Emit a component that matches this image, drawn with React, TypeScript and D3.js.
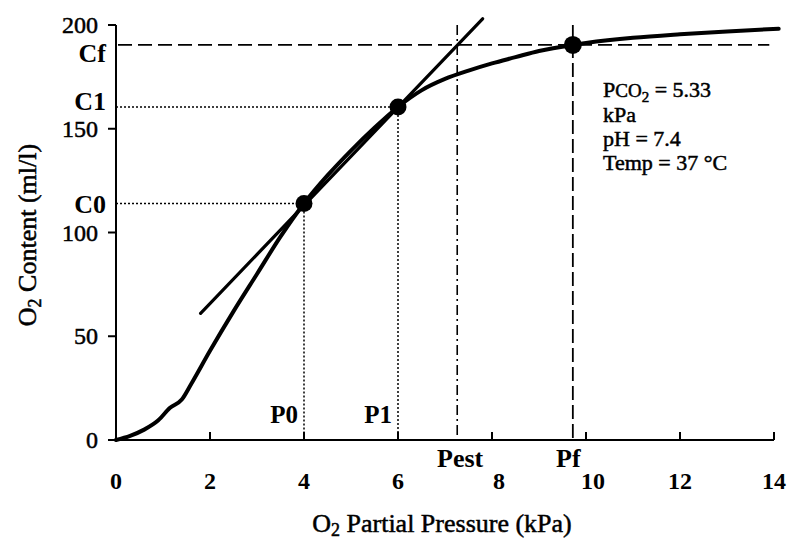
import React from "react";
import * as d3 from "d3";

const curveX = [0, 0.3, 0.6, 0.9, 1.15, 1.4, 1.6, 2.0, 2.5, 3.0, 3.5, 4.0, 4.5, 5.0, 5.5, 6.0, 6.5, 7.0, 7.5, 8.0, 8.5, 9.0, 9.72, 10, 11, 12, 13, 14.1];
const curveY = [0, 2, 5, 9.5, 15.5, 19.5, 27, 43, 62, 80, 98, 114, 127.5, 139.5, 150.5, 160.5, 168.5, 174, 178, 181.5, 184.5, 187.5, 190.4, 191.3, 193.8, 195.5, 196.9, 198.2];
const tangentX = [1.8, 7.8];
const tangentY = [61, 203];
const pointNames = ["0", "1", "f"];
const pointP = [4, 6, 9.72];
const pointC = [114, 160.5, 190.4];
const pEst = 7.26;
const xTicks = [0, 2, 4, 6, 8, 10, 12, 14];
const yTicks = [0, 50, 100, 150, 200];
const infoLines = ["kPa", "pH = 7.4", "Temp = 37 °C"];

const FONT = "'Liberation Serif', 'DejaVu Serif', 'Times New Roman', serif";

export default function App() {
  const x = d3.scaleLinear().domain([0, 14]).range([116, 774]);
  const y = d3.scaleLinear().domain([0, 200]).range([440, 25]);
  const curvePts: [number, number][] = curveX.map((v, i) => [v, curveY[i]]);
  const line = d3
    .line<[number, number]>()
    .x((d) => x(d[0]))
    .y((d) => y(d[1]))
    .curve(d3.curveMonotoneX);
  const tLine = d3
    .line<[number, number]>()
    .x((d) => x(d[0]))
    .y((d) => y(d[1]));
  const tangentPts: [number, number][] = tangentX.map((v, i) => [v, tangentY[i]]);
  const x0 = x(0);
  const yTop = y(200);
  const yBase = y(0);
  const cLabelOffsets = [10, 3, 17];
  const thick = { stroke: "#000", strokeWidth: 0.5 };

  return (
    <svg
      width={788}
      height={542}
      style={{ position: "absolute", left: 0, top: 0, background: "#fff" }}
      fontFamily={FONT}
    >
      <rect x={0} y={0} width={788} height={542} fill="#fff" />
      {[0, 1].map((i) => (
        <g key={"dot" + i} stroke="#000" strokeWidth={1.5} strokeDasharray="2,2" fill="none">
          <line x1={x0} x2={x(pointP[i])} y1={y(pointC[i])} y2={y(pointC[i])} />
          <line x1={x(pointP[i])} x2={x(pointP[i])} y1={y(pointC[i])} y2={yBase} />
        </g>
      ))}
      <line x1={x0 + 2} x2={x(13.9)} y1={y(pointC[2])} y2={y(pointC[2])} stroke="#000" strokeWidth={1.8} strokeDasharray="14,6" />
      <line x1={x(pointP[2])} x2={x(pointP[2])} y1={yTop} y2={yBase} stroke="#000" strokeWidth={1.8} strokeDasharray="14,5" />
      <line x1={x(pEst)} x2={x(pEst)} y1={yTop} y2={yBase} stroke="#000" strokeWidth={1.6} strokeDasharray="10,4,2,4" />

      <g stroke="#000" strokeWidth={2} fill="none">
        <line x1={x0} x2={x0} y1={yTop} y2={yBase} />
        <line x1={x0 - 8} x2={x(14)} y1={yBase} y2={yBase} />
        {yTicks.map((t) => (
          <line key={"yt" + t} x1={x0 - 8} x2={x0} y1={y(t)} y2={y(t)} />
        ))}
        {xTicks.filter((t) => t > 0).map((t) => (
          <line key={"xt" + t} x1={x(t)} x2={x(t)} y1={yBase} y2={yBase - 8} />
        ))}
      </g>

      <path d={tLine(tangentPts) || ""} stroke="#000" strokeWidth={3.2} fill="none" strokeLinecap="round" />
      <path d={line(curvePts) || ""} stroke="#000" strokeWidth={4} fill="none" strokeLinecap="round" strokeLinejoin="round" />
      {pointP.map((p, i) => (
        <circle key={"pt" + i} cx={x(p)} cy={y(pointC[i])} r={i === 2 ? 9 : 8.5} fill="#000" />
      ))}

      {yTicks.map((t) => (
        <text key={"yl" + t} x={98} y={y(t) + 8} textAnchor="end" fontSize={24} {...thick}>
          {t}
        </text>
      ))}
      {xTicks.map((t) => (
        <text key={"xl" + t} x={x(t) + (t === 8 || t === 10 ? 7 : 0)} y={489} textAnchor="middle" fontSize={24} fontWeight="bold">
          {t}
        </text>
      ))}
      {pointNames.map((n, i) => (
        <text key={"cl" + n} x={106} y={y(pointC[i]) + cLabelOffsets[i]} textAnchor="end" fontSize={26} fontWeight="bold">
          {"C" + n}
        </text>
      ))}
      {[0, 1].map((i) => (
        <text key={"pl" + i} x={x(pointP[i]) - 6} y={423} textAnchor="end" fontSize={25} fontWeight="bold">
          {"P" + pointNames[i]}
        </text>
      ))}
      <text x={437} y={467} fontSize={26} fontWeight="bold">Pest</text>
      <text x={556} y={467} fontSize={26} fontWeight="bold">Pf</text>

      <text x={603} y={97} fontSize={22} {...thick}>
        P<tspan fontSize={19}>CO</tspan>
        <tspan fontSize={15} dy={5}>2</tspan>
        <tspan dy={-5}>{" = 5.33"}</tspan>
      </text>
      {infoLines.map((s, i) => (
        <text key={"il" + i} x={603} y={122 + i * 24} fontSize={22} {...thick}>
          {s}
        </text>
      ))}

      <text x={442} y={532} textAnchor="middle" fontSize={26} {...thick}>
        O<tspan fontSize={18} dy={4}>2</tspan>
        <tspan dy={-4}>{" Partial Pressure (kPa)"}</tspan>
      </text>
      <text transform="translate(36,235) rotate(-90)" textAnchor="middle" fontSize={26} {...thick}>
        O<tspan fontSize={18} dy={5}>2</tspan>
        <tspan dy={-5}>{" Content (ml/l)"}</tspan>
      </text>
    </svg>
  );
}
